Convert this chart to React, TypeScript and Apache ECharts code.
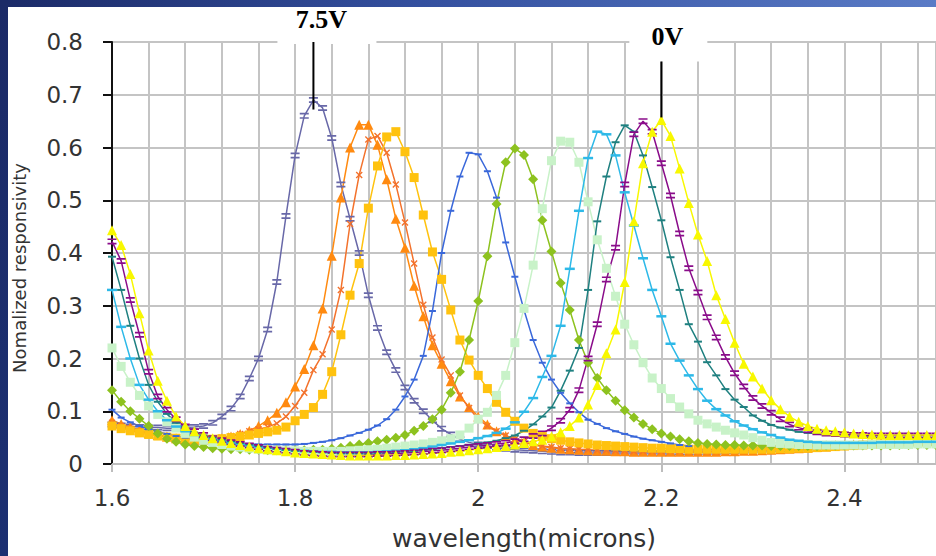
import React, { useEffect, useRef } from 'react';
import * as echarts from 'echarts';

// wavelength samples (microns)
const WAVELENGTHS = [
  1.60, 1.61, 1.62, 1.63, 1.64, 1.65, 1.66, 1.67, 1.68, 1.69,
  1.70, 1.71, 1.72, 1.73, 1.74, 1.75, 1.76, 1.77, 1.78, 1.79,
  1.80, 1.81, 1.82, 1.83, 1.84, 1.85, 1.86, 1.87, 1.88, 1.89,
  1.90, 1.91, 1.92, 1.93, 1.94, 1.95, 1.96, 1.97, 1.98, 1.99,
  2.00, 2.01, 2.02, 2.03, 2.04, 2.05, 2.06, 2.07, 2.08, 2.09,
  2.10, 2.11, 2.12, 2.13, 2.14, 2.15, 2.16, 2.17, 2.18, 2.19,
  2.20, 2.21, 2.22, 2.23, 2.24, 2.25, 2.26, 2.27, 2.28, 2.29,
  2.30, 2.31, 2.32, 2.33, 2.34, 2.35, 2.36, 2.37, 2.38, 2.39,
  2.40, 2.41, 2.42, 2.43, 2.44, 2.45, 2.46, 2.47, 2.48, 2.49,
  2.50,
];

// normalized responsivity, one curve per bias (7.5V ... 0V)
const R_SLATE = [
  0.075, 0.073, 0.071, 0.070, 0.069, 0.069, 0.068, 0.068, 0.069, 0.070,
  0.072, 0.078, 0.090, 0.105, 0.128, 0.162, 0.200, 0.255, 0.345, 0.470,
  0.585, 0.660, 0.690, 0.675, 0.618, 0.530, 0.465, 0.400, 0.320, 0.258,
  0.212, 0.178, 0.145, 0.120, 0.100, 0.083, 0.067, 0.056, 0.047, 0.041,
  0.037, 0.034, 0.031, 0.029, 0.027, 0.026, 0.025, 0.024, 0.023, 0.022,
  0.022, 0.021, 0.021, 0.021, 0.021, 0.021, 0.021, 0.021, 0.021, 0.021,
  0.021, 0.021, 0.022, 0.022, 0.022, 0.023, 0.023, 0.024, 0.024, 0.025,
  0.026, 0.027, 0.028, 0.028, 0.029, 0.030, 0.031, 0.032, 0.033, 0.034,
  0.035, 0.036, 0.037, 0.038, 0.039, 0.040, 0.041, 0.042, 0.043, 0.044,
  0.045,
];
const R_ORANGE = [
  0.083, 0.076, 0.070, 0.064, 0.059, 0.055, 0.052, 0.049, 0.047, 0.046,
  0.046, 0.047, 0.049, 0.052, 0.057, 0.063, 0.072, 0.083, 0.097, 0.117,
  0.147, 0.180, 0.225, 0.295, 0.395, 0.505, 0.600, 0.643, 0.643, 0.605,
  0.540, 0.465, 0.410, 0.338, 0.280, 0.225, 0.190, 0.157, 0.128, 0.108,
  0.090, 0.075, 0.062, 0.053, 0.046, 0.041, 0.036, 0.033, 0.031, 0.029,
  0.028, 0.027, 0.026, 0.025, 0.025, 0.024, 0.024, 0.023, 0.023, 0.023,
  0.023, 0.023, 0.023, 0.023, 0.023, 0.023, 0.023, 0.024, 0.024, 0.025,
  0.025, 0.026, 0.027, 0.028, 0.029, 0.030, 0.031, 0.032, 0.033, 0.035,
  0.036, 0.037, 0.038, 0.039, 0.040, 0.041, 0.043, 0.044, 0.045, 0.047,
  0.048,
];
const R_RED = [
  0.078, 0.072, 0.067, 0.062, 0.058, 0.054, 0.051, 0.049, 0.048, 0.047,
  0.047, 0.048, 0.050, 0.053, 0.057, 0.062, 0.066, 0.070, 0.077, 0.090,
  0.110, 0.135, 0.178, 0.208, 0.255, 0.330, 0.455, 0.548, 0.615, 0.622,
  0.590, 0.530, 0.458, 0.380, 0.302, 0.240, 0.198, 0.168, 0.130, 0.106,
  0.085, 0.072, 0.062, 0.054, 0.047, 0.042, 0.038, 0.034, 0.032, 0.030,
  0.029, 0.028, 0.027, 0.026, 0.026, 0.025, 0.025, 0.024, 0.024, 0.024,
  0.024, 0.024, 0.024, 0.024, 0.024, 0.024, 0.024, 0.025, 0.025, 0.026,
  0.026, 0.027, 0.027, 0.028, 0.029, 0.030, 0.031, 0.032, 0.033, 0.034,
  0.035, 0.036, 0.037, 0.038, 0.039, 0.040, 0.041, 0.042, 0.043, 0.044,
  0.045,
];
const R_GOLD = [
  0.072, 0.067, 0.063, 0.059, 0.056, 0.053, 0.051, 0.049, 0.048, 0.047,
  0.047, 0.047, 0.048, 0.050, 0.052, 0.055, 0.058, 0.061, 0.064, 0.070,
  0.082, 0.094, 0.107, 0.132, 0.175, 0.245, 0.320, 0.380, 0.485, 0.565,
  0.620, 0.630, 0.592, 0.543, 0.472, 0.402, 0.350, 0.292, 0.235, 0.197,
  0.168, 0.143, 0.117, 0.098, 0.081, 0.068, 0.058, 0.052, 0.048, 0.045,
  0.042, 0.040, 0.038, 0.036, 0.035, 0.034, 0.033, 0.032, 0.031, 0.030,
  0.030, 0.029, 0.029, 0.028, 0.028, 0.028, 0.028, 0.028, 0.028, 0.028,
  0.028, 0.028, 0.028, 0.029, 0.029, 0.030, 0.030, 0.031, 0.032, 0.033,
  0.034, 0.035, 0.036, 0.037, 0.038, 0.038, 0.039, 0.040, 0.041, 0.041,
  0.042,
];
const R_BLUE = [
  0.103, 0.088, 0.079, 0.072, 0.066, 0.061, 0.057, 0.053, 0.050, 0.047,
  0.045, 0.043, 0.041, 0.040, 0.039, 0.038, 0.037, 0.037, 0.037, 0.037,
  0.037, 0.038, 0.040, 0.042, 0.045, 0.049, 0.054, 0.059, 0.065, 0.073,
  0.085, 0.103, 0.128, 0.160, 0.205, 0.290, 0.400, 0.480, 0.545, 0.590,
  0.587, 0.555, 0.505, 0.420, 0.355, 0.292, 0.235, 0.192, 0.160, 0.135,
  0.115, 0.098, 0.084, 0.076, 0.068, 0.062, 0.057, 0.052, 0.048, 0.045,
  0.042, 0.039, 0.036, 0.034,
];
const R_GREEN = [
  0.140, 0.118, 0.100, 0.086, 0.072, 0.058, 0.048, 0.042, 0.037, 0.034,
  0.032, 0.030, 0.029, 0.028, 0.028, 0.027, 0.027, 0.026, 0.026, 0.026,
  0.026, 0.026, 0.027, 0.027, 0.029, 0.031, 0.034, 0.037, 0.040, 0.043,
  0.046, 0.050, 0.055, 0.063, 0.072, 0.085, 0.103, 0.135, 0.175, 0.235,
  0.309, 0.394, 0.493, 0.572, 0.598, 0.586, 0.540, 0.462, 0.403, 0.343,
  0.292, 0.235, 0.192, 0.163, 0.140, 0.120, 0.102, 0.088, 0.076, 0.066,
  0.058, 0.052, 0.047, 0.043, 0.040, 0.038, 0.037, 0.036, 0.036, 0.035,
  0.035, 0.035, 0.034, 0.034, 0.034, 0.034, 0.034, 0.034, 0.035, 0.035,
  0.035, 0.035, 0.035, 0.035, 0.035, 0.035, 0.036, 0.036, 0.036, 0.036,
  0.036,
];
const R_PALE = [
  0.220, 0.185, 0.155, 0.130, 0.110, 0.094, 0.080, 0.068, 0.058, 0.051,
  0.045, 0.041, 0.037, 0.034, 0.032, 0.030, 0.028, 0.027, 0.026, 0.025,
  0.025, 0.024, 0.024, 0.024, 0.024, 0.024, 0.025, 0.026, 0.027, 0.028,
  0.030, 0.032, 0.034, 0.036, 0.038, 0.041, 0.044, 0.048, 0.055, 0.068,
  0.085, 0.098, 0.130, 0.168, 0.230, 0.295, 0.377, 0.484, 0.575, 0.612,
  0.610, 0.572, 0.497, 0.425, 0.371, 0.318, 0.265, 0.226, 0.192, 0.163,
  0.143, 0.124, 0.108, 0.095, 0.083, 0.076, 0.070, 0.064, 0.059, 0.055,
  0.050, 0.045, 0.041, 0.039, 0.038, 0.037, 0.037, 0.036, 0.036, 0.036,
  0.036, 0.036, 0.036, 0.037, 0.037, 0.037, 0.037, 0.037, 0.038, 0.038,
  0.038,
];
const R_CYAN = [
  0.330, 0.260, 0.200, 0.150, 0.122, 0.100, 0.083, 0.071, 0.062, 0.055,
  0.050, 0.046, 0.042, 0.039, 0.037, 0.035, 0.033, 0.031, 0.029, 0.027,
  0.026, 0.025, 0.024, 0.023, 0.023, 0.022, 0.022, 0.022, 0.022, 0.023,
  0.024, 0.025, 0.026, 0.028, 0.030, 0.033, 0.036, 0.039, 0.042, 0.045,
  0.049, 0.053, 0.059, 0.067, 0.079, 0.099, 0.125, 0.165, 0.205, 0.262,
  0.370, 0.480, 0.580, 0.630, 0.625, 0.585, 0.515, 0.452, 0.390, 0.330,
  0.280, 0.228, 0.196, 0.168, 0.142, 0.120, 0.104, 0.092, 0.081, 0.073,
  0.066, 0.060, 0.055, 0.050, 0.046, 0.044, 0.042, 0.041, 0.040, 0.040,
  0.040, 0.040, 0.040, 0.040, 0.041, 0.041, 0.041, 0.041, 0.042, 0.042,
  0.042,
];
const R_TEAL = [
  0.393, 0.330, 0.262, 0.200, 0.150, 0.118, 0.095, 0.078, 0.066, 0.059,
  0.054, 0.050, 0.046, 0.043, 0.040, 0.037, 0.034, 0.031, 0.029, 0.027,
  0.025, 0.024, 0.023, 0.022, 0.021, 0.020, 0.020, 0.020, 0.020, 0.021,
  0.022, 0.023, 0.024, 0.025, 0.027, 0.028, 0.030, 0.032, 0.034, 0.036,
  0.039, 0.041, 0.044, 0.049, 0.054, 0.063, 0.075, 0.090, 0.107, 0.139,
  0.177, 0.220, 0.330, 0.460, 0.545, 0.610, 0.642, 0.630, 0.585, 0.525,
  0.462, 0.392, 0.330, 0.265, 0.232, 0.193, 0.168, 0.142, 0.122, 0.108,
  0.092, 0.082, 0.074, 0.069, 0.065, 0.061, 0.059, 0.057, 0.055, 0.054,
  0.053, 0.052, 0.051, 0.051, 0.050, 0.050, 0.050, 0.050, 0.050, 0.050,
  0.050,
];
const R_PURPLE = [
  0.422, 0.385, 0.311, 0.245, 0.175, 0.128, 0.103, 0.085, 0.071, 0.062,
  0.055, 0.049, 0.045, 0.041, 0.038, 0.035, 0.032, 0.029, 0.027, 0.025,
  0.023, 0.021, 0.020, 0.019, 0.018, 0.018, 0.018, 0.018, 0.018, 0.019,
  0.019, 0.020, 0.021, 0.022, 0.023, 0.025, 0.026, 0.028, 0.030, 0.032,
  0.034, 0.036, 0.038, 0.040, 0.043, 0.047, 0.053, 0.058, 0.068, 0.082,
  0.103, 0.140, 0.200, 0.265, 0.350, 0.410, 0.530, 0.625, 0.650, 0.630,
  0.570, 0.509, 0.437, 0.371, 0.325, 0.278, 0.240, 0.203, 0.172, 0.147,
  0.125, 0.110, 0.097, 0.085, 0.075, 0.069, 0.064, 0.060, 0.058, 0.057,
  0.056, 0.055, 0.055, 0.054, 0.054, 0.054, 0.054, 0.054, 0.054, 0.054,
  0.054,
];
const R_YELLOW = [
  0.443, 0.415, 0.360, 0.286, 0.215, 0.158, 0.120, 0.090, 0.072, 0.062,
  0.055, 0.049, 0.044, 0.040, 0.036, 0.033, 0.030, 0.028, 0.026, 0.024,
  0.022, 0.021, 0.020, 0.019, 0.018, 0.017, 0.016, 0.016, 0.016, 0.016,
  0.016, 0.017, 0.017, 0.018, 0.019, 0.020, 0.021, 0.023, 0.024, 0.026,
  0.028, 0.030, 0.032, 0.034, 0.037, 0.040, 0.043, 0.046, 0.052, 0.060,
  0.072, 0.088, 0.113, 0.150, 0.210, 0.255, 0.345, 0.460, 0.570, 0.630,
  0.652, 0.622, 0.560, 0.495, 0.435, 0.385, 0.320, 0.275, 0.230, 0.190,
  0.166, 0.143, 0.121, 0.104, 0.090, 0.080, 0.072, 0.067, 0.064, 0.062,
  0.060, 0.058, 0.057, 0.056, 0.056, 0.055, 0.055, 0.055, 0.055, 0.055,
  0.055,
];

// annotations: label, wavelength of pointer, pointer bottom/top (responsivity)
const ANNOTATIONS = [
  { label: '7.5V', x: 1.82, yFrom: 0.672, yTo: 0.8 },
  { label: '0V', x: 2.2, yFrom: 0.657, yTo: 0.763 },
];

const Y_TITLE = 'Nomalized responsivity';
const X_TITLE = 'wavelength(microns)';

const DOUBLE_BAR = 'path://M0,0H10V2H0Z M0,5H10V7H0Z';
const CROSS = 'path://M0,1.4L1.4,0L10,8.6L8.6,10Z M8.6,0L10,1.4L1.4,10L0,8.6Z';
const DASH = 'path://M0,0H10V2H0Z';

const CURVES = [
  { name: '7.5V', values: R_SLATE, color: '#6868A8', symbol: DOUBLE_BAR, size: [9, 6] },
  { name: 's2', values: R_ORANGE, color: '#FF8A10', symbol: 'triangle', size: 10 },
  { name: 's3', values: R_RED, color: '#F3722C', symbol: CROSS, size: 7 },
  { name: 's4', values: R_GOLD, color: '#FFC20E', symbol: 'rect', size: 9 },
  { name: 's5', values: R_BLUE, color: '#3A68DA', symbol: DASH, size: [7, 2] },
  { name: 's6', values: R_GREEN, color: '#8DC21F', symbol: 'diamond', size: 10 },
  { name: 's7', values: R_PALE, color: '#C8F2C8', symbol: 'rect', size: 9 },
  { name: 's8', values: R_CYAN, color: '#2DB9E8', symbol: DASH, size: [10, 2.5] },
  { name: 's9', values: R_TEAL, color: '#1F8080', symbol: DASH, size: [8, 2] },
  { name: 's10', values: R_PURPLE, color: '#8A0C8A', symbol: DOUBLE_BAR, size: [9, 6] },
  { name: '0V', values: R_YELLOW, color: '#F8F800', symbol: 'triangle', size: 10 },
];

const FONT = 'DejaVu Sans';

export default function App() {
  const ref = useRef<HTMLDivElement>(null);

  useEffect(() => {
    if (!ref.current) return;
    const chart = echarts.init(ref.current, undefined, { renderer: 'svg' });
    const gridColor = '#c4c4c4';
    chart.setOption({
      animation: false,
      backgroundColor: 'transparent',
      grid: { left: 112, top: 42, right: -4, bottom: 89 },
      xAxis: [
        {
          type: 'value',
          min: 1.6,
          max: 2.5,
          interval: 0.2,
          name: X_TITLE,
          nameLocation: 'middle',
          nameGap: 62,
          nameTextStyle: { fontFamily: FONT, fontSize: 25, color: '#333' },
          axisLine: { show: true, lineStyle: { color: '#bdbdbd', width: 2 } },
          axisTick: { show: true, length: 8, lineStyle: { color: '#bdbdbd', width: 2 } },
          axisLabel: {
            fontFamily: FONT,
            fontSize: 23,
            color: '#333',
            margin: 22,
            showMaxLabel: false,
          },
          splitLine: { show: false },
        },
        {
          type: 'value',
          min: 1.6,
          max: 2.5,
          interval: 0.04,
          position: 'top',
          axisLine: { show: false },
          axisTick: { show: false },
          axisLabel: { show: false },
          splitLine: { show: true, lineStyle: { color: gridColor, width: 2 } },
        },
      ],
      yAxis: {
        type: 'value',
        min: 0,
        max: 0.8,
        interval: 0.1,
        axisLine: { show: true, lineStyle: { color: '#111', width: 2 } },
        axisTick: { show: true, length: 9, lineStyle: { color: '#111', width: 2 } },
        axisLabel: { fontFamily: FONT, fontSize: 23, color: '#333', margin: 29 },
        splitLine: { show: true, lineStyle: { color: gridColor, width: 2 } },
      },
      series: CURVES.map((c) => ({
        type: 'line',
        name: c.name,
        xAxisIndex: 0,
        data: c.values.map((v, i) => [WAVELENGTHS[i], v]),
        symbol: c.symbol,
        symbolSize: c.size,
        showSymbol: true,
        lineStyle: { color: c.color, width: 1.5 },
        itemStyle: { color: c.color, borderWidth: 0 },
        emphasis: { disabled: true },
      })),
    });

    const toPx = (x: number, y: number) =>
      chart.convertToPixel({ xAxisIndex: 0, yAxisIndex: 0 }, [x, y]) as number[];

    const a0 = ANNOTATIONS[0];
    const a1 = ANNOTATIONS[1];
    const p0top = toPx(a0.x, a0.yTo);
    const p0bot = toPx(a0.x, a0.yFrom);
    const p1top = toPx(a1.x, a1.yTo);
    const p1bot = toPx(a1.x, a1.yFrom);

    chart.setOption({
      graphic: [
        {
          type: 'text',
          z: 60,
          x: 19,
          y: 268,
          rotation: Math.PI / 2,
          style: {
            text: Y_TITLE,
            fill: '#333',
            font: `18px "${FONT}"`,
            align: 'center',
            verticalAlign: 'middle',
          },
        },
        {
          type: 'rect',
          z: 50,
          shape: { x: p0top[0] - 36, y: 9, width: 99, height: p0top[1] + 2 - 9 },
          style: { fill: '#ffffff' },
        },
        {
          type: 'text',
          z: 60,
          x: p0top[0] + 8,
          y: 19,
          style: {
            text: a0.label,
            fill: '#000',
            font: 'bold 26px "Liberation Serif", "Times New Roman", serif',
            align: 'center',
            verticalAlign: 'middle',
          },
        },
        {
          type: 'line',
          z: 60,
          shape: { x1: p0top[0], y1: p0top[1], x2: p0bot[0], y2: p0bot[1] },
          style: { stroke: '#000', lineWidth: 2 },
        },
        {
          type: 'rect',
          z: 50,
          shape: { x: p1top[0] - 32, y: 9, width: 78, height: p1top[1] - 9 },
          style: { fill: '#ffffff' },
        },
        {
          type: 'text',
          z: 60,
          x: p1top[0] + 6,
          y: 36,
          style: {
            text: a1.label,
            fill: '#000',
            font: 'bold 26px "Liberation Serif", "Times New Roman", serif',
            align: 'center',
            verticalAlign: 'middle',
          },
        },
        {
          type: 'line',
          z: 60,
          shape: { x1: p1top[0], y1: p1top[1], x2: p1bot[0], y2: p1bot[1] },
          style: { stroke: '#000', lineWidth: 2 },
        },
      ],
    });

    return () => chart.dispose();
  }, []);

  return (
    <div
      style={{
        position: 'fixed',
        left: 0,
        top: 0,
        width: 936,
        height: 556,
        background: '#ffffff',
        overflow: 'hidden',
      }}
    >
      <div ref={ref} style={{ position: 'absolute', left: 0, top: 0, width: 936, height: 556 }} />
      <div
        style={{
          position: 'absolute',
          left: 0,
          top: 0,
          width: 936,
          height: 7,
          background: 'linear-gradient(to right, #1b2a67 0%, #34509f 45%, #5a7bc6 100%)',
        }}
      />
      <div
        style={{
          position: 'absolute',
          left: 0,
          top: 0,
          width: 8,
          height: 556,
          background: 'linear-gradient(to bottom, #1b2a67 0%, #1c3072 100%)',
        }}
      />
    </div>
  );
}
